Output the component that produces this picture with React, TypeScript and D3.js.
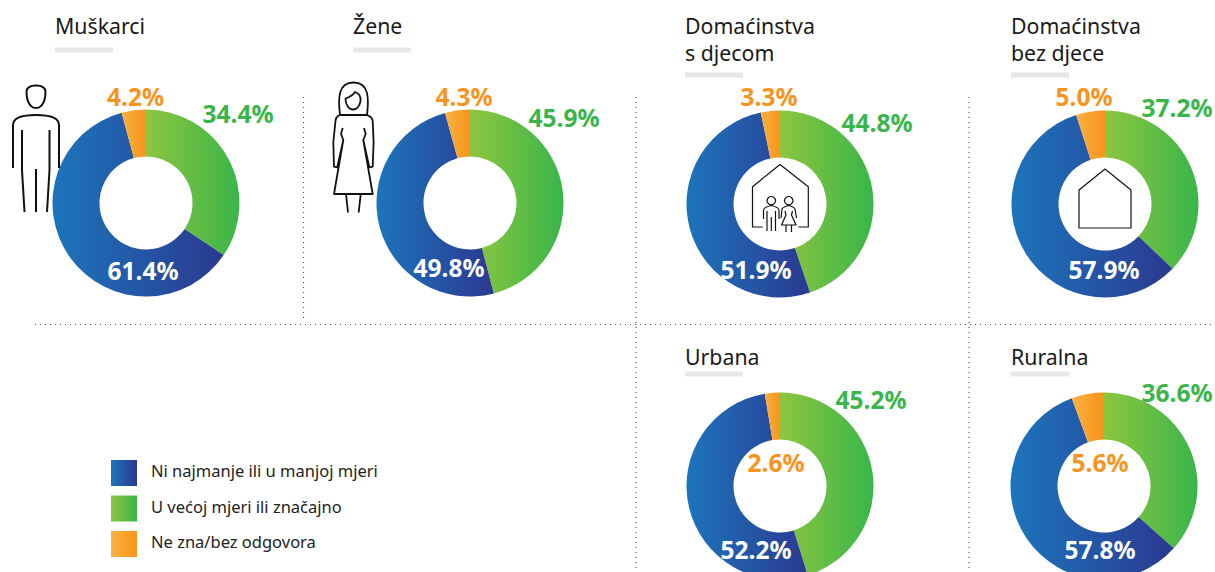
import React from "react";
import * as d3 from "d3";

const panelNames = ["Muškarci", "Žene", "Domaćinstva|s djecom", "Domaćinstva|bez djece", "Urbana", "Ruralna"];
const greenValues = [34.4, 45.9, 44.8, 37.2, 45.2, 36.6];
const blueValues = [61.4, 49.8, 51.9, 57.9, 52.2, 57.8];
const orangeValues = [4.2, 4.3, 3.3, 5.0, 2.6, 5.6];
const legendLabels = ["Ni najmanje ili u manjoj mjeri", "U većoj mjeri ili značajno", "Ne zna/bez odgovora"];

// layout
const centers = [[146, 203], [470, 203], [780, 204], [1105, 204], [780, 486], [1104, 486]];
const titleX = [55, 353, 685, 1011, 685, 1011];
const titleY = [34, 34, 34, 34, 365, 365];
const ruleY = [50, 50, 75, 75, 374, 374];
const greenPos = [[238, 113], [564, 117], [877, 122], [1177, 107], [871, 399], [1177, 392]];
const bluePos = [[143, 270], [449, 267], [756, 269], [1104, 269], [756, 549], [1100, 549]];
const orangePos = [[135.5, 96], [464, 96], [769, 96], [1084, 96], [776, 462], [1100, 462]];

const FONT = "'Noto Sans', sans-serif";
const BLUE = "#2b3990", GREEN = "#39b54a", ORANGE = "#f7941d";
const grads: [string, string, string][] = [
  ["gGreen", "#8dc63f", GREEN],
  ["gBlue", "#1c75bc", BLUE],
  ["gOrange", "#fbb040", ORANGE],
];
const R = 93.5, r = 46.5;
const arcGen = d3.arc<d3.PieArcDatum<number>>().innerRadius(r).outerRadius(R);
const pieGen = d3.pie<number>().sort(null);

const Icon = ({ d, w = 2 }: { d: string; w?: number }) => (
  <path d={d} fill="none" stroke="#111" strokeWidth={w} strokeLinecap="butt" strokeLinejoin="round" />
);

const manIcon =
  "M26.5,92 C26.5,87 31,85.5 36,85.5 C41,85.5 45.5,87 45.5,92 C45.5,99 44,103 41,106 C39,108.5 33,108.5 31,106 C28,103 26.5,99 26.5,92 Z " +
  "M13,168 L13,125 C13,119 20,115 36,115 C52,115 59,119 59,125 L59,168 " +
  "M22,130 L22,170 L24.5,212 M49.5,130 L49.5,170 L47,212 M36,169 L36,212";
const womanIcon =
  "M340,115 C338,98 338,82.5 353.5,82.5 C369,82.5 369,98 367,115 " +
  "M345.5,98.5 C350,97 353,95 355,92 C359,93.5 361,97 360.5,101 C359.5,107 356,109.5 353,109.5 C349,109.5 345.5,105 345.5,98.5 Z " +
  "M340,115 L338,116 C336.5,117 335.7,118.5 335.5,121 L333.3,142 L334,166.7 L337.3,167.3 L343.3,140 L341,134 L342.7,128 " +
  "M340,115 L367,115 L369,116 C371,117 372.5,118.5 372.7,121 L373.6,142 L372.7,166.7 L369.3,167.3 L363.3,140 L365.7,134 L364,128 " +
  "M343.3,140 L334,194 L372.7,194 L363.3,140 M346,194 L348,212.5 M360.7,194 L358.7,212.5";
const familyHouse =
  "M762.7,227 L752.5,227 L752.5,186.7 L780,164.5 L808.3,186.7 L808.3,227 L798.3,227 " +
  "M771.3,196.5 a4.2,4.2 0 1 0 0.01,0 Z M763.5,219 L763.5,210 Q764,207 771.3,205.5 Q778.5,207 779,210 L779,219 " +
  "M767,211 L767,231 M771.3,217 L771.3,231 M775.5,211 L775.5,231 " +
  "M788.7,196.5 a4.2,4.2 0 1 0 0.01,0 Z M781,218 L782,209 Q783,207 788.7,205.5 Q794,207 795,209 L796.5,218 " +
  "M785,211 L786,215 L781.5,225 L796,225 L791.5,215 L792.5,211 M786,225 L786,232 M791.5,225 L791.5,232";
const plainHouse = "M1079,190 L1105,169 L1131,190 L1131,228 L1079,228 Z";

export default function App() {
  return (
    <svg width={1215} height={572} style={{ position: "absolute", left: 0, top: 0, background: "#fff" }} fontFamily={FONT}>
      <defs>
        {grads.map(([id, a, b]) => (
          <linearGradient key={id} id={id} x1="0" x2="1" y1="0" y2="0">
            <stop offset="0" stopColor={a} />
            <stop offset="1" stopColor={b} />
          </linearGradient>
        ))}
      </defs>

      <g stroke="#555" strokeWidth={1.2} strokeDasharray="1 4" fill="none">
        <line x1={303.5} x2={303.5} y1={97} y2={322} />
        <line x1={636} x2={636} y1={97} y2={572} />
        <line x1={969} x2={969} y1={97} y2={572} />
        <line x1={35} x2={1215} y1={324.5} y2={324.5} />
      </g>

      {panelNames.map((name, i) => {
        const [cx, cy] = centers[i];
        const arcs = pieGen([greenValues[i], blueValues[i], orangeValues[i]]);
        const lines = name.split("|");
        return (
          <g key={name}>
            {lines.map((l, k) => (
              <text key={l} x={titleX[i]} y={titleY[i] + k * 27} fontSize={21.3} fill="#1a1a1a">{l}</text>
            ))}
            <rect x={titleX[i]} y={ruleY[i] - 2.5} width={58} height={5} fill="#e6e7e8" />
            <g transform={`translate(${cx},${cy})`}>
              {arcs.map((a, k) => (
                <path key={k} d={arcGen(a) as string} fill={`url(#${grads[k][0]})`} />
              ))}
            </g>
            <g fontWeight={700} fontSize={24.5} textAnchor="middle" dominantBaseline="central">
              <text x={greenPos[i][0]} y={greenPos[i][1]} fill={GREEN}>{greenValues[i].toFixed(1)}%</text>
              <text x={bluePos[i][0]} y={bluePos[i][1]} fill="#fff">{blueValues[i].toFixed(1)}%</text>
              <text x={orangePos[i][0]} y={orangePos[i][1]} fill={ORANGE}>{orangeValues[i].toFixed(1)}%</text>
            </g>
          </g>
        );
      })}

      <Icon d={manIcon} />
      <Icon d={womanIcon} w={1.8} />
      <Icon d={familyHouse} w={1.2} />
      <Icon d={plainHouse} w={1.2} />

      {legendLabels.map((l, i) => (
        <g key={l}>
          <rect x={111} y={460 + i * 35.5} width={26} height={26} fill={`url(#${["gBlue", "gGreen", "gOrange"][i]})`} />
          <text x={151} y={477 + i * 35.5} fontSize={16.5} fill="#222">{l}</text>
        </g>
      ))}
    </svg>
  );
}
